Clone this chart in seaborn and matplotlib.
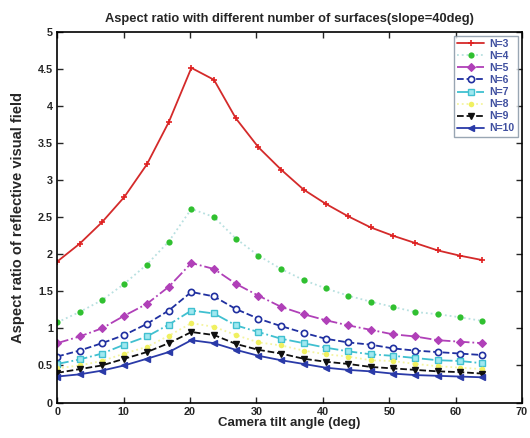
import numpy as np
import pandas as pd
import matplotlib
matplotlib.use("Agg")
import matplotlib.pyplot as plt
import seaborn as sns

tilt = [0, 3.37, 6.74, 10.1, 13.5, 16.8, 20.2, 23.6, 26.9, 30.3,
        33.7, 37.1, 40.4, 43.8, 47.2, 50.5, 53.9, 57.3, 60.6, 64.0]

n3 = [1.90, 2.14, 2.43, 2.77, 3.21, 3.78, 4.51, 4.35, 3.83, 3.44,
      3.14, 2.87, 2.68, 2.51, 2.36, 2.25, 2.15, 2.05, 1.98, 1.92]
n4 = [1.08, 1.22, 1.38, 1.60, 1.86, 2.17, 2.61, 2.50, 2.21, 1.98,
      1.80, 1.65, 1.54, 1.44, 1.36, 1.29, 1.22, 1.19, 1.15, 1.10]
n5 = [0.80, 0.89, 1.00, 1.17, 1.33, 1.56, 1.88, 1.80, 1.60, 1.44,
      1.29, 1.19, 1.11, 1.04, 0.98, 0.92, 0.89, 0.84, 0.82, 0.80]
n6 = [0.62, 0.70, 0.80, 0.91, 1.06, 1.24, 1.49, 1.43, 1.26, 1.13,
      1.03, 0.94, 0.86, 0.81, 0.78, 0.73, 0.70, 0.68, 0.66, 0.64]
n7 = [0.52, 0.58, 0.66, 0.78, 0.89, 1.05, 1.24, 1.20, 1.04, 0.95,
      0.86, 0.80, 0.74, 0.69, 0.65, 0.63, 0.60, 0.57, 0.56, 0.53]
n8 = [0.46, 0.50, 0.56, 0.66, 0.75, 0.90, 1.07, 1.02, 0.91, 0.81,
      0.77, 0.70, 0.65, 0.62, 0.57, 0.56, 0.52, 0.49, 0.47, 0.45]
n9 = [0.40, 0.45, 0.50, 0.59, 0.68, 0.80, 0.95, 0.91, 0.79, 0.71,
      0.66, 0.59, 0.55, 0.52, 0.48, 0.46, 0.44, 0.42, 0.41, 0.39]
n10 = [0.35, 0.38, 0.43, 0.50, 0.59, 0.68, 0.84, 0.80, 0.71, 0.63,
       0.57, 0.52, 0.47, 0.44, 0.42, 0.39, 0.37, 0.36, 0.35, 0.34]

labels = ["N=3", "N=4", "N=5", "N=6", "N=7", "N=8", "N=9", "N=10"]
series = [n3, n4, n5, n6, n7, n8, n9, n10]

x_ticks = [0, 10, 20, 30, 40, 50, 60, 70]
y_ticks = [0, 0.5, 1, 1.5, 2, 2.5, 3, 3.5, 4, 4.5, 5]
y_ticklabels = ["0", "0.5", "1", "1.5", "2", "2.5", "3", "3.5", "4", "4.5", "5"]

sns.set_style("ticks")
plt.rcParams['font.family'] = ['Liberation Sans', 'DejaVu Sans']
plt.rcParams['font.weight'] = 'bold'

styles = [
    dict(color="#d42a2a", linestyle="-", marker="+", markersize=5, mew=1.2,
         mfc="#e02020", mec="#e02020"),
    dict(color="#b8e0e0", linestyle=":", marker="o", markersize=4.5, mew=0,
         mfc="#30c030", mec="#30c030"),
    dict(color="#b040b8", linestyle="-.", marker="D", markersize=4, mew=0.8,
         mfc="#b040b8", mec="#b040b8"),
    dict(color="#2030a0", linestyle="--", marker="o", markersize=4.5, mew=1.2,
         mfc="white", mec="#2030a0"),
    dict(color="#40c0d0", linestyle="-.", marker="s", markersize=4, mew=1.0,
         mfc="#a0e8f0", mec="#40c0d0"),
    dict(color="#f4f4a0", linestyle=":", marker="o", markersize=4, mew=0,
         mfc="#f0f060", mec="#f0f060"),
    dict(color="#101010", linestyle="--", marker="v", markersize=4.5, mew=1.0,
         mfc="#101010", mec="#101010"),
    dict(color="#2a3aa8", linestyle="-", marker="<", markersize=5, mew=1.0,
         mfc="#2a3aa8", mec="#2a3aa8"),
]

fig = plt.figure(figsize=(5.3, 4.38), dpi=100)
ax = fig.add_axes([0.108, 0.081, 0.877, 0.847])

for lab, vals, st in zip(labels, series, styles):
    df = pd.DataFrame({"tilt": tilt, "ratio": vals})
    sns.lineplot(data=df, x="tilt", y="ratio", ax=ax, label=lab,
                 linewidth=1.3, **st)

ax.set_xlim(0, 70)
ax.set_ylim(0, 5)
ax.set_xticks(x_ticks)
ax.set_yticks(y_ticks)
ax.set_yticklabels(y_ticklabels)
ax.tick_params(direction="in", length=4, width=1, top=True, right=True,
               labelsize=7.8, pad=3)
for sp in ax.spines.values():
    sp.set_linewidth(1.2)
    sp.set_color("black")

ax.set_title("Aspect ratio with different number of surfaces(slope=40deg)",
             fontsize=9.3, fontweight="bold", pad=7)
ax.set_xlabel("Camera tilt angle (deg)", fontsize=9.5, fontweight="bold", labelpad=0)
ax.set_ylabel("Aspect ratio of reflective visual field", fontsize=10.5,
              fontweight="bold", labelpad=9)

leg = ax.legend(loc="upper right", fontsize=7.5, frameon=True, fancybox=False,
                borderpad=0.3, labelspacing=0.2, handlelength=2.6,
                handletextpad=0.5, borderaxespad=0.4)
leg.get_frame().set_edgecolor("#8090a0")
leg.get_frame().set_linewidth(1.0)
for t in leg.get_texts():
    t.set_color("#4050a0")

fig.savefig("out.png", dpi=100)
